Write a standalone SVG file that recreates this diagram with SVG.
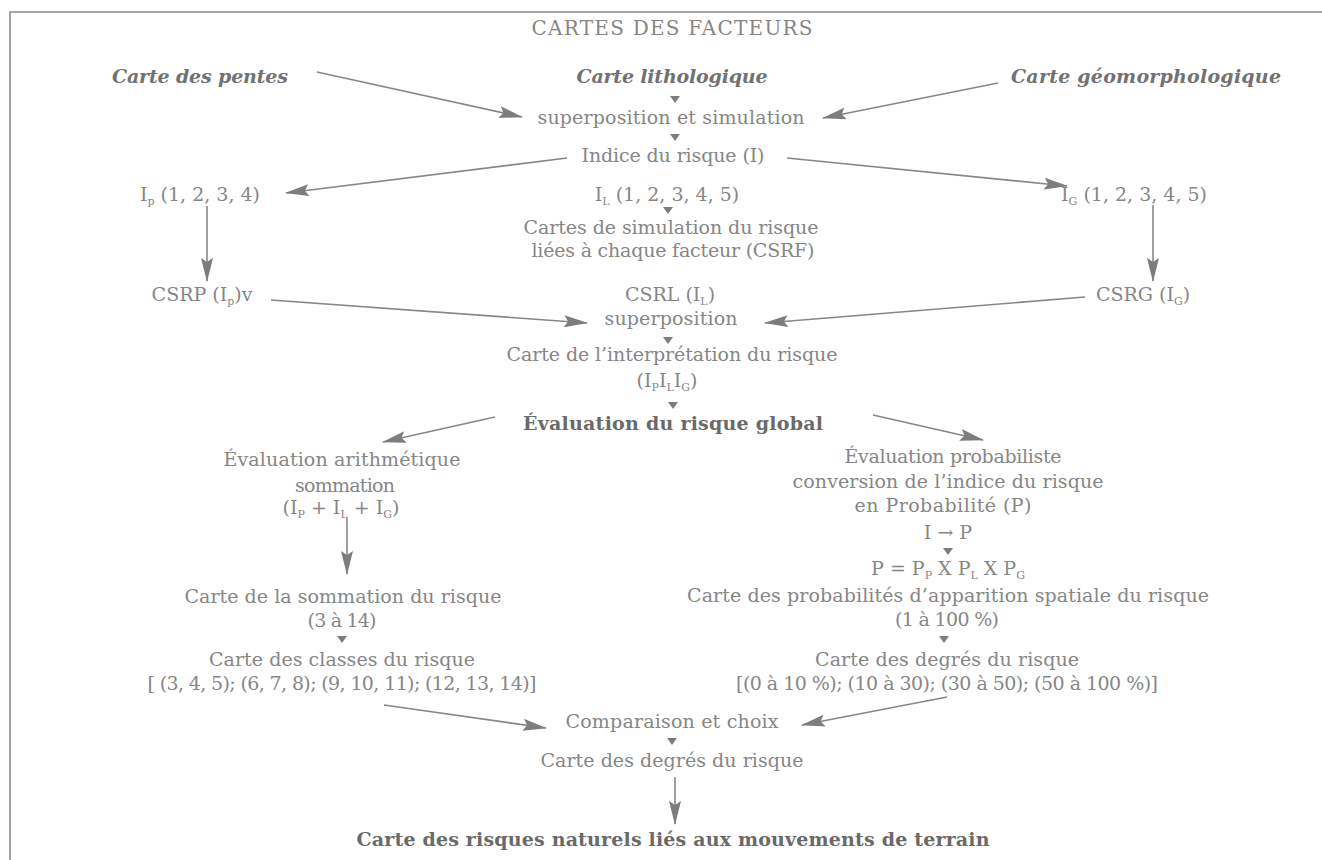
<svg xmlns="http://www.w3.org/2000/svg" width="1322" height="860" viewBox="0 0 1322 860">
<style>
text{font-family:"DejaVu Serif","Liberation Serif",serif;font-size:19px;fill:#868686;text-anchor:middle}
.bi{font-weight:bold;font-style:italic;fill:#727272}
.b{font-weight:bold;fill:#6a6a6a}
.cap{font-size:20px}
.sub{font-size:11px}
.ln{stroke:#878787;stroke-width:1.6;fill:none}
.tri{fill:#7d7d7d}
.frame{stroke:#8a8a8a;stroke-width:1.6;fill:none}
</style>
<defs>
<marker id="ah" viewBox="0 0 24 12" refX="23" refY="6" markerWidth="24" markerHeight="12" markerUnits="userSpaceOnUse" orient="auto">
<path d="M0,0 L24,6 L0,12 L4,6 Z" fill="#7d7d7d"/>
</marker>
</defs>
<rect width="1322" height="860" fill="#ffffff"/>
<path class="frame" d="M10,860 L10,12 L1322,12"/>

<g id="connectors">
<line class="ln" x1="317" y1="72" x2="522" y2="117" marker-end="url(#ah)"/>
<line class="ln" x1="998" y1="83" x2="823" y2="118" marker-end="url(#ah)"/>
<line class="ln" x1="567" y1="158" x2="286" y2="193" marker-end="url(#ah)"/>
<line class="ln" x1="787" y1="158" x2="1067" y2="186" marker-end="url(#ah)"/>
<line class="ln" x1="207" y1="206" x2="207" y2="281" marker-end="url(#ah)"/>
<line class="ln" x1="1153" y1="205" x2="1153" y2="281" marker-end="url(#ah)"/>
<line class="ln" x1="271" y1="300" x2="587" y2="323" marker-end="url(#ah)"/>
<line class="ln" x1="1085" y1="297" x2="765" y2="323" marker-end="url(#ah)"/>
<line class="ln" x1="495" y1="417" x2="383" y2="442" marker-end="url(#ah)"/>
<line class="ln" x1="873" y1="415" x2="983" y2="440" marker-end="url(#ah)"/>
<line class="ln" x1="347" y1="518" x2="347" y2="574" marker-end="url(#ah)"/>
<line class="ln" x1="384" y1="705" x2="546" y2="728" marker-end="url(#ah)"/>
<line class="ln" x1="947" y1="697" x2="802" y2="725" marker-end="url(#ah)"/>
<line class="ln" x1="675" y1="777" x2="675" y2="824" marker-end="url(#ah)"/>
<polygon class="tri" points="670,96 680,96 675,103"/>
<polygon class="tri" points="670,134 680,134 675,141"/>
<polygon class="tri" points="663,207 673,207 668,214"/>
<polygon class="tri" points="663,337 673,337 668,344"/>
<polygon class="tri" points="668,402 678,402 673,409"/>
<polygon class="tri" points="943,548 953,548 948,555"/>
<polygon class="tri" points="337,636 347,636 342,643"/>
<polygon class="tri" points="939,636 949,636 944,643"/>
<polygon class="tri" points="667,738 677,738 672,745"/>
</g>

<g id="title"><text class="cap" x="672" y="35" textLength="281">CARTES DES FACTEURS</text></g>
<g id="carte-pentes"><text class="bi" x="200" y="83" textLength="176">Carte des pentes</text></g>
<g id="carte-litho"><text class="bi" x="672" y="83" textLength="191">Carte lithologique</text></g>
<g id="carte-geomorph"><text class="bi" x="1146" y="83" textLength="270">Carte géomorphologique</text></g>
<g id="superposition-simulation"><text x="671" y="124" textLength="267">superposition et simulation</text></g>
<g id="indice"><text x="673" y="162" textLength="183">Indice du risque (I)</text></g>
<g id="ip"><text x="200" y="201">I<tspan class="sub" dy="4">p</tspan><tspan dy="-4"> (1, 2, 3, 4)</tspan></text></g>
<g id="il"><text x="667" y="201">I<tspan class="sub" dy="4">L</tspan><tspan dy="-4"> (1, 2, 3, 4, 5)</tspan></text></g>
<g id="ig"><text x="1134" y="201">I<tspan class="sub" dy="4">G</tspan><tspan dy="-4"> (1, 2, 3, 4, 5)</tspan></text></g>
<g id="csrf"><text x="671" y="234" textLength="295">Cartes de simulation du risque</text><text x="673" y="257" textLength="283">liées à chaque facteur (CSRF)</text></g>
<g id="csrp"><text x="202" y="301">CSRP (I<tspan class="sub" dy="4">p</tspan><tspan dy="-4">)v</tspan></text></g>
<g id="csrl"><text x="670" y="301">CSRL (I<tspan class="sub" dy="4">L</tspan><tspan dy="-4">)</tspan></text><text x="671" y="325" textLength="133">superposition</text></g>
<g id="csrg"><text x="1143" y="301">CSRG (I<tspan class="sub" dy="4">G</tspan><tspan dy="-4">)</tspan></text></g>
<g id="interpretation"><text x="672" y="361" textLength="331">Carte de l’interprétation du risque</text><text x="667" y="387">(I<tspan class="sub" dy="4">P</tspan><tspan dy="-4">I</tspan><tspan class="sub" dy="4">L</tspan><tspan dy="-4">I</tspan><tspan class="sub" dy="4">G</tspan><tspan dy="-4">)</tspan></text></g>
<g id="evaluation-globale"><text class="b" x="673" y="430" textLength="300">Évaluation du risque global</text></g>
<g id="eval-arith"><text x="342" y="466" textLength="237">Évaluation arithmétique</text><text x="345" y="492" textLength="100">sommation</text><text x="341" y="514">(I<tspan class="sub" dy="4">P</tspan><tspan dy="-4"> + I</tspan><tspan class="sub" dy="4">L</tspan><tspan dy="-4"> + I</tspan><tspan class="sub" dy="4">G</tspan><tspan dy="-4">)</tspan></text></g>
<g id="sommation"><text x="343" y="603" textLength="317">Carte de la sommation du risque</text><text x="342" y="627" textLength="69">(3 à 14)</text></g>
<g id="classes"><text x="342" y="666" textLength="266">Carte des classes du risque</text><text x="342" y="690" textLength="389">[ (3, 4, 5); (6, 7, 8); (9, 10, 11); (12, 13, 14)]</text></g>
<g id="eval-proba"><text x="953" y="463" textLength="217">Évaluation probabiliste</text><text x="948" y="488" textLength="311">conversion de l’indice du risque</text><text x="943" y="512" textLength="177">en Probabilité (P)</text><text x="948" y="539">I → P</text></g>
<g id="produit"><text x="948" y="575">P = P<tspan class="sub" dy="4">P</tspan><tspan dy="-4"> X P</tspan><tspan class="sub" dy="4">L</tspan><tspan dy="-4"> X P</tspan><tspan class="sub" dy="4">G</tspan></text></g>
<g id="probabilites"><text x="948" y="602" textLength="522">Carte des probabilités d’apparition spatiale du risque</text><text x="947" y="626" textLength="104">(1 à 100 %)</text></g>
<g id="degres-proba"><text x="947" y="666" textLength="264">Carte des degrés du risque</text><text x="947" y="690" textLength="422">[(0 à 10 %); (10 à 30); (30 à 50); (50 à 100 %)]</text></g>
<g id="comparaison"><text x="672" y="728" textLength="213">Comparaison et choix</text></g>
<g id="degres"><text x="672" y="767" textLength="263">Carte des degrés du risque</text></g>
<g id="final"><text class="b" x="673" y="846" textLength="633">Carte des risques naturels liés aux mouvements de terrain</text></g>
</svg>
